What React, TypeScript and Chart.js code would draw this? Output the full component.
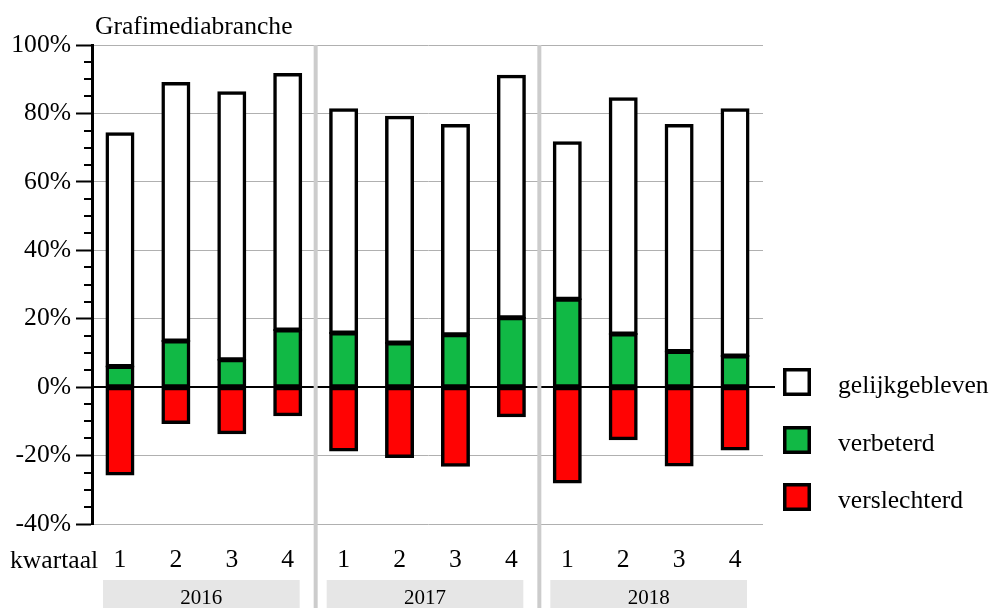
import React, { useEffect, useRef } from 'react';
import { Chart, registerables } from 'chart.js';

Chart.register(...registerables);

// Aandeel bedrijven per kwartaal (%)
const years = ['2016', '2017', '2018'];
const quarters = ['1', '2', '3', '4'];
const verbeterd = [6, 13.5, 8, 16.7, 15.8, 12.9, 15.3, 20.3, 25.7, 15.5, 10.4, 9.1];
const gelijkgebleven = [68.2, 75.4, 78.2, 74.8, 65.4, 66.1, 61.3, 70.7, 45.9, 68.9, 66.2, 72.1];
const verslechterd = [-25.5, -10.5, -13.5, -8.2, -18.5, -20.4, -23, -8.5, -27.9, -15.2, -22.9, -18.2];
const yMin = -40;
const yMax = 100;
const yStep = 20;

const title = 'Grafimediabranche';
const quarterAxisName = 'kwartaal';

const FONT = '"Liberation Serif", "Times New Roman", Times, serif';
const TEXT_SIZE = 25.6;
const GREEN = '#11b945';
const RED = '#ff0303';

const legendOrder = [1, 0, 2];

const barStyle = {
  borderColor: '#000',
  borderWidth: 3.5,
  borderSkipped: false as const,
  inflateAmount: 1,
  barThickness: 27,
};

const decorations = {
  id: 'decorations',
  beforeDatasetsDraw(chart: any) {
    const { ctx, chartArea, scales } = chart;
    const x = scales.x;
    const y = scales.y;
    ctx.save();
    // minor ticks every 5%
    ctx.strokeStyle = '#000';
    ctx.lineWidth = 2;
    for (let v = yMin; v <= yMax; v += 5) {
      if (v % yStep === 0) continue;
      const py = Math.round(y.getPixelForValue(v));
      ctx.beginPath();
      ctx.moveTo(chartArea.left - 8, py);
      ctx.lineTo(chartArea.left, py);
      ctx.stroke();
    }
    // zero line
    const y0 = Math.round(y.getPixelForValue(0));
    ctx.lineWidth = 2;
    ctx.beginPath();
    ctx.moveTo(chartArea.left, y0);
    ctx.lineTo(chartArea.right + 12, y0);
    ctx.stroke();
    // year separators
    ctx.strokeStyle = '#cccccc';
    ctx.lineWidth = 4;
    for (let i = 1; i < years.length; i++) {
      const k = i * quarters.length;
      const px = (x.getPixelForValue(k - 1) + x.getPixelForValue(k)) / 2;
      ctx.beginPath();
      ctx.moveTo(px, chartArea.top);
      ctx.lineTo(px, chart.height);
      ctx.stroke();
    }
    ctx.restore();
  },
  afterDraw(chart: any) {
    const { ctx, chartArea, scales } = chart;
    const x = scales.x;
    ctx.save();
    ctx.fillStyle = '#000';
    ctx.font = `${TEXT_SIZE}px ${FONT}`;
    ctx.textAlign = 'left';
    ctx.textBaseline = 'alphabetic';
    ctx.fillText(title, chartArea.left + 3, 34);
    ctx.fillText(quarterAxisName, 10, 568);

    // year boxes
    const step = x.getPixelForValue(1) - x.getPixelForValue(0);
    years.forEach((yr, i) => {
      const left = x.getPixelForValue(i * quarters.length) - step / 2 + 11;
      const right = x.getPixelForValue(i * quarters.length + quarters.length - 1) + step / 2 - 16;
      ctx.fillStyle = '#e6e6e6';
      ctx.fillRect(left, 580, right - left, chart.height - 580);
      ctx.fillStyle = '#000';
      ctx.font = `21px ${FONT}`;
      ctx.textAlign = 'center';
      ctx.fillText(yr, (left + right) / 2, 604);
    });

    // legend
    const legendY = [382, 440, 497];
    legendOrder.forEach((di, j) => {
      const ds = chart.data.datasets[di];
      const cy = legendY[j];
      const bx = 783;
      const size = 28;
      ctx.fillStyle = '#000';
      ctx.fillRect(bx, cy - size / 2, size, size);
      ctx.fillStyle = ds.backgroundColor;
      ctx.fillRect(bx + 3.5, cy - size / 2 + 3.5, size - 7, size - 7);
      ctx.fillStyle = '#000';
      ctx.font = `${TEXT_SIZE}px ${FONT}`;
      ctx.textAlign = 'left';
      ctx.fillText(ds.label, 838, cy + 10.5);
    });
    ctx.restore();
  },
};

export default function App() {
  const canvasRef = useRef<HTMLCanvasElement | null>(null);

  useEffect(() => {
    const canvas = canvasRef.current;
    if (!canvas) return;
    Chart.defaults.font.family = FONT;
    const labels = years.flatMap(() => quarters);
    const chart = new Chart(canvas, {
      type: 'bar',
      data: {
        labels,
        datasets: [
          { label: 'verbeterd', data: verbeterd, backgroundColor: GREEN, ...barStyle },
          { label: 'gelijkgebleven', data: gelijkgebleven, backgroundColor: '#ffffff', ...barStyle },
          { label: 'verslechterd', data: verslechterd, backgroundColor: RED, ...barStyle },
        ],
      },
      options: {
        responsive: false,
        animation: false,
        devicePixelRatio: 1,
        layout: { padding: { left: 0, top: 45, right: 230, bottom: 0 } },
        plugins: {
          legend: { display: false },
          tooltip: { enabled: false },
          title: { display: false },
        },
        scales: {
          x: {
            stacked: true,
            grid: { display: false, drawTicks: false },
            border: { display: false },
            ticks: {
              color: '#000',
              font: { size: TEXT_SIZE, family: FONT },
              padding: 21,
              maxRotation: 0,
              autoSkip: false,
            },
            afterFit: (s: any) => {
              s.height = 84;
            },
          },
          y: {
            stacked: true,
            min: yMin,
            max: yMax,
            grid: {
              color: (c: any) => (c.tick && c.tick.value === 0 ? 'rgba(0,0,0,0)' : '#b0b0b0'),
              lineWidth: 1,
              tickColor: '#000',
              tickLength: 16,
              tickWidth: 2,
            },
            border: { display: true, color: '#000', width: 3 },
            ticks: {
              stepSize: yStep,
              color: '#000',
              font: { size: TEXT_SIZE, family: FONT },
              padding: 5,
              callback: (v: any) => `${v}%`,
            },
            afterFit: (s: any) => {
              s.width = 92;
            },
          },
        },
      },
      plugins: [decorations],
    });
    return () => chart.destroy();
  }, []);

  return (
    <canvas
      ref={canvasRef}
      width={993}
      height={608}
      style={{ position: 'absolute', left: 0, top: 0, display: 'block', width: 993, height: 608 }}
    />
  );
}
